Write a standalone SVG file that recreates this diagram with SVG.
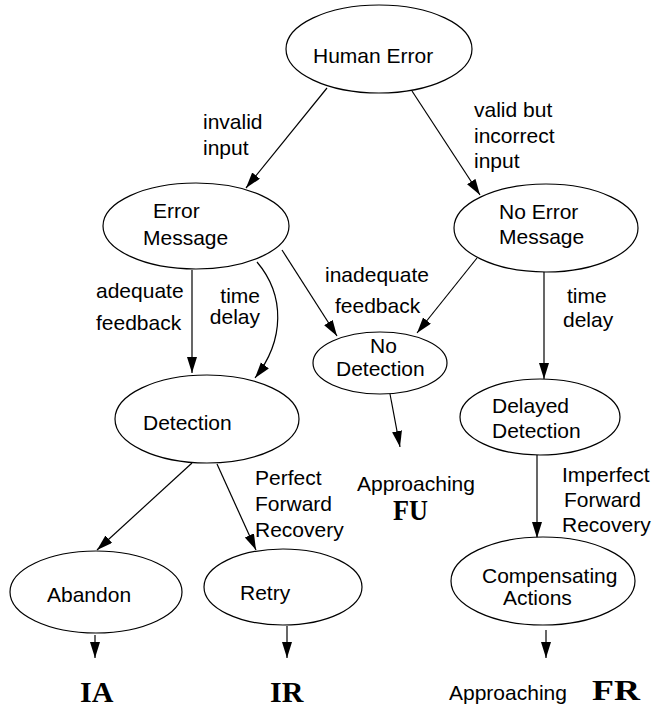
<svg xmlns="http://www.w3.org/2000/svg" width="654" height="709" viewBox="0 0 654 709">
  <style>
    .node ellipse { fill: #ffffff; stroke: #000000; stroke-width: 1.2; }
    text { font-family: "Liberation Sans", Arial, Helvetica, sans-serif; font-size: 21px; fill: #000000; }
    text.big { font-family: "Liberation Serif", "Times New Roman", serif; font-weight: bold; font-size: 30px; }
    .edge { fill: none; stroke: #000000; stroke-width: 1.2; marker-end: url(#arrow); }
  </style>
  <defs>
    <marker id="arrow" markerUnits="userSpaceOnUse" markerWidth="17" markerHeight="11" refX="16" refY="5" orient="auto">
      <path d="M0,0 L16,5 L0,10 Z" fill="#000000"/>
    </marker>
  </defs>

  <!-- connectors -->
  <g id="connectors">
    <path class="edge" d="M327,88 L246,188"/>
    <path class="edge" d="M412,91 L480,195"/>
    <path class="edge" d="M192,270 L192,373"/>
    <path class="edge" d="M257,262 C285,295 285,340 255,378"/>
    <path class="edge" d="M282,250 L337,336"/>
    <path class="edge" d="M477,258 L417,333"/>
    <path class="edge" d="M544,272 L544,379"/>
    <path class="edge" d="M390,394 L400,447"/>
    <path class="edge" d="M537,455 L537,538"/>
    <path class="edge" d="M192,463 L97,550"/>
    <path class="edge" d="M217,464 L256,550"/>
    <path class="edge" d="M95,635 L95,658"/>
    <path class="edge" d="M287,626 L287,658"/>
    <path class="edge" d="M546,630 L546,658"/>
  </g>

  <!-- edge labels -->
  <g id="labels">
    <text x="203" y="129">invalid</text>
    <text x="203" y="155">input</text>
    <text x="474" y="117">valid but</text>
    <text x="474" y="143">incorrect</text>
    <text x="474" y="168">input</text>
    <text x="96" y="298">adequate</text>
    <text x="96" y="330">feedback</text>
    <text x="260" y="303" text-anchor="end">time</text>
    <text x="260" y="324" text-anchor="end">delay</text>
    <text x="325" y="282">inadequate</text>
    <text x="335" y="313">feedback</text>
    <text x="567" y="303">time</text>
    <text x="563" y="327">delay</text>
    <text x="255" y="485">Perfect</text>
    <text x="255" y="511">Forward</text>
    <text x="255" y="537">Recovery</text>
    <text x="562" y="482">Imperfect</text>
    <text x="564" y="507">Forward</text>
    <text x="562" y="532">Recovery</text>
  </g>

  <!-- nodes -->
  <g id="human-error" class="node">
    <ellipse cx="379" cy="49" rx="93" ry="44"/>
    <text x="313" y="63">Human Error</text>
  </g>
  <g id="error-message" class="node">
    <ellipse cx="196" cy="226" rx="93" ry="43"/>
    <text x="153" y="218">Error</text>
    <text x="143" y="245">Message</text>
  </g>
  <g id="no-error-message" class="node">
    <ellipse cx="546" cy="228" rx="92" ry="44"/>
    <text x="499" y="219">No Error</text>
    <text x="499" y="244">Message</text>
  </g>
  <g id="detection" class="node">
    <ellipse cx="207" cy="419" rx="92" ry="44"/>
    <text x="143" y="430">Detection</text>
  </g>
  <g id="no-detection" class="node">
    <ellipse cx="380" cy="363" rx="67" ry="31"/>
    <text x="370" y="353">No</text>
    <text x="336" y="376">Detection</text>
  </g>
  <g id="delayed-detection" class="node">
    <ellipse cx="540" cy="417" rx="80" ry="38"/>
    <text x="492" y="413">Delayed</text>
    <text x="492" y="438">Detection</text>
  </g>
  <g id="abandon" class="node">
    <ellipse cx="96" cy="592" rx="86" ry="41"/>
    <text x="47" y="602">Abandon</text>
  </g>
  <g id="retry" class="node">
    <ellipse cx="283" cy="587" rx="79" ry="38"/>
    <text x="240" y="600">Retry</text>
  </g>
  <g id="compensating-actions" class="node">
    <ellipse cx="543" cy="581" rx="92" ry="44"/>
    <text x="482" y="583">Compensating</text>
    <text x="503" y="605">Actions</text>
  </g>

  <!-- outcomes -->
  <g id="outcome-fu">
    <text x="357" y="491">Approaching</text>
    <text class="big" x="393" y="520" textLength="35" lengthAdjust="spacingAndGlyphs">FU</text>
  </g>
  <g id="outcome-ia">
    <text class="big" x="80" y="702">IA</text>
  </g>
  <g id="outcome-ir">
    <text class="big" x="270" y="702">IR</text>
  </g>
  <g id="outcome-fr">
    <text x="449" y="700">Approaching</text>
    <text class="big" x="592" y="700" textLength="48" lengthAdjust="spacingAndGlyphs">FR</text>
  </g>
</svg>
